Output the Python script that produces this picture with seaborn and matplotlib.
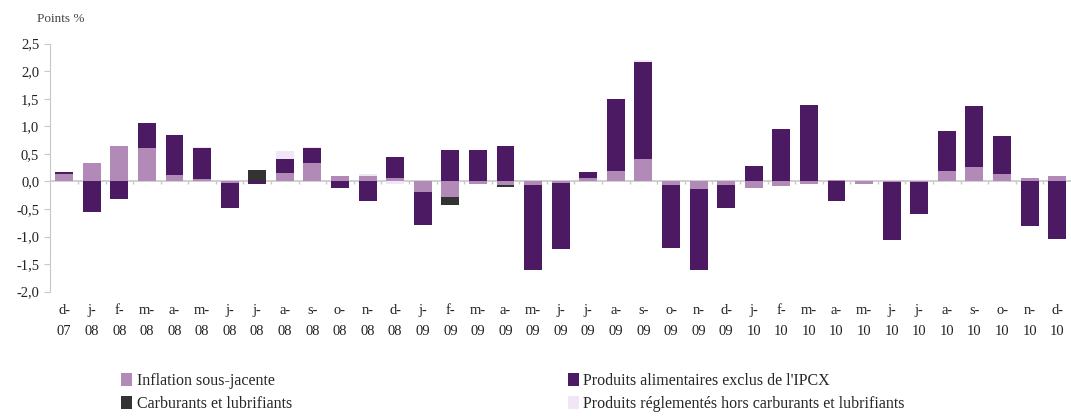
import numpy as np
import matplotlib
matplotlib.use("Agg")
import matplotlib.pyplot as plt
from matplotlib.ticker import FuncFormatter, MultipleLocator
from matplotlib.patches import Patch
import seaborn as sns

# ======================
# DATA
# ======================
month_letters = ["d", "j", "f", "m", "a", "m", "j", "j", "a", "s", "o", "n",
                 "d", "j", "f", "m", "a", "m", "j", "j", "a", "s", "o", "n",
                 "d", "j", "f", "m", "a", "m", "j", "j", "a", "s", "o", "n", "d"]
years = ["07"] + ["08"] * 12 + ["09"] * 12 + ["10"] * 12

inflation = [0.14, 0.34, 0.65, 0.61, 0.12, 0.05, -0.02, 0.00, 0.15, 0.33, 0.10, 0.10,
             0.06, -0.19, -0.28, -0.05, -0.07, -0.07, -0.02, 0.06, 0.19, 0.41, -0.07, -0.14,
             -0.07, -0.12, -0.08, -0.05, 0.03, -0.05, -0.01, -0.01, 0.19, 0.26, 0.13, 0.06, 0.10]
alimentaires = [0.03, -0.55, -0.31, 0.45, 0.72, 0.56, -0.46, -0.04, 0.25, 0.27, -0.12, -0.35,
                0.38, -0.60, 0.57, 0.57, 0.64, -1.53, -1.21, 0.11, 1.30, 1.76, -1.14, -1.46,
                -0.41, 0.28, 0.95, 1.38, -0.35, 0.0, -1.05, -0.58, 0.72, 1.11, 0.69, -0.81, -1.05]
carburants = [0.0, 0.0, 0.0, 0.0, 0.0, 0.0, 0.0, 0.21, 0.0, 0.0, 0.0, 0.0,
              0.0, 0.0, -0.15, 0.0, -0.03, 0.0, 0.0, 0.0, 0.0, 0.0, 0.0, 0.0,
              0.0, 0.0, 0.0, 0.0, 0.0, 0.0, 0.0, 0.0, 0.0, 0.0, 0.0, 0.0, 0.0]
reglementes = [0.0, 0.0, 0.0, 0.0, 0.0, 0.02, 0.0, 0.0, 0.15, 0.03, 0.0, 0.03,
               -0.05, 0.0, 0.0, 0.0, 0.0, 0.0, 0.0, 0.0, 0.0, 0.03, 0.0, 0.0,
               0.0, 0.0, 0.0, 0.0, 0.0, 0.0, 0.0, 0.0, 0.0, 0.0, 0.0, 0.0, 0.0]

series_names = ["Inflation sous-jacente", "Produits alimentaires exclus de l'IPCX",
                "Carburants et lubrifiants",
                "Produits réglementés hors carburants et lubrifiants"]
series_values = [inflation, alimentaires, carburants, reglementes]
series_colors = ["#B28AB8", "#4B1A63", "#333333", "#F1E6F6"]

labels = [f"{m}-\n{y}" for m, y in zip(month_letters, years)]
idx = np.arange(len(labels))

# ======================
# PLOT
# ======================
sns.set_style("white")
plt.rcParams["font.family"] = ["Liberation Serif", "DejaVu Serif"]

fig = plt.figure(figsize=(10.71, 4.16), dpi=100)
ax = fig.add_axes([0.047, 0.299, 0.953, 0.596])

pos_base = np.zeros(len(idx))
neg_base = np.zeros(len(idx))
for name, vals, col in zip(series_names, series_values, series_colors):
    v = np.array(vals, dtype=float)
    bottom = np.where(v >= 0, pos_base, neg_base)
    sns.barplot(x=idx, y=v, bottom=bottom, color=col, saturation=1,
                width=0.65, errorbar=None, ax=ax, linewidth=0)
    pos_base = pos_base + np.where(v > 0, v, 0)
    neg_base = neg_base + np.where(v < 0, v, 0)

ax.set_xlim(-0.5, len(idx) - 0.5)
ax.set_ylim(-2.0, 2.5)
ax.yaxis.set_major_locator(MultipleLocator(0.5))
ax.yaxis.set_major_formatter(FuncFormatter(lambda v, p: f"{v:.1f}".replace(".", ",")))

ax.axhline(0, color="#c8c8c8", lw=1.2, zorder=0.5)
ax.vlines(idx[:-1] + 0.5, -0.04, 0, color="#c8c8c8", lw=1)

for s in ["top", "right", "bottom"]:
    ax.spines[s].set_visible(False)
ax.spines["left"].set_color("#c8c8c8")

ax.set_xticks(idx)
ax.set_xticklabels(labels, fontsize=10.5, color="#222222", linespacing=1.75)
ax.tick_params(axis="x", length=0, pad=9)
ax.tick_params(axis="y", left=True, length=4, color="#c8c8c8", labelsize=10.5,
               labelcolor="#222222", direction="out", pad=4)
ax.set_xlabel("")
ax.set_ylabel("")

fig.text(0.035, 0.955, "Points %", fontsize=9.5, color="#444444", va="center")

# legend is filled column by column, so reorder to get rows as in the reference
order = [0, 2, 1, 3]
handles = [Patch(facecolor=series_colors[i], edgecolor="none") for i in order]
names = [series_names[i] for i in order]
fig.legend(handles, names, ncol=2, loc="lower left",
           bbox_to_anchor=(0.1, -0.025), frameon=False, fontsize=11.5,
           handlelength=0.65, handleheight=0.85, handletextpad=0.3,
           columnspacing=17.3, labelspacing=0.45)

fig.savefig("out.png", dpi=100)
